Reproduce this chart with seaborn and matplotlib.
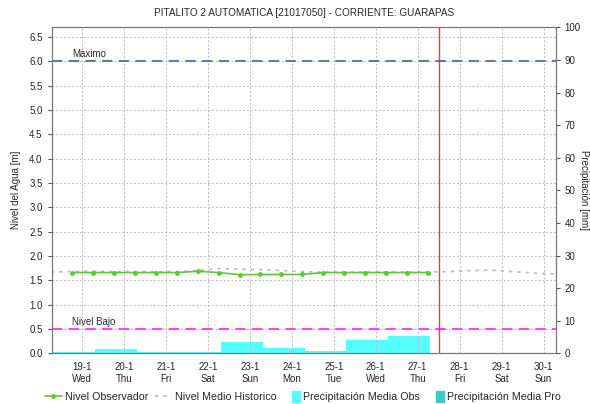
import numpy as np
import pandas as pd
import matplotlib
matplotlib.use("Agg")
import matplotlib.pyplot as plt
from matplotlib.ticker import MultipleLocator, FixedLocator
from matplotlib.legend_handler import HandlerPatch
import seaborn as sns

# DATA
# x positions are in days of January
obs_days = [18.75 + 0.5 * i for i in range(18)]
obs_level = [1.66, 1.66, 1.66, 1.66, 1.66, 1.66, 1.685, 1.66, 1.615,
             1.62, 1.62, 1.62, 1.66, 1.66, 1.66, 1.66, 1.66, 1.66]

hist_days = [18.25 + 0.5 * i for i in range(25)]
hist_level = [1.67, 1.68, 1.69, 1.68, 1.68, 1.68, 1.68, 1.70, 1.74, 1.73,
              1.72, 1.70, 1.68, 1.67, 1.67, 1.67, 1.67, 1.67, 1.67, 1.68,
              1.70, 1.71, 1.68, 1.65, 1.63]

precip_start = [17.3, 18.3, 19.3, 20.3, 21.3, 22.3, 23.3, 24.3, 25.3, 26.3]
precip_obs = [5.2, 0.4, 1.4, 0.4, 0.4, 3.6, 1.7, 0.8, 4.2, 5.2]

tick_days = list(range(19, 31))
tick_labels = ["19-1\nWed", "20-1\nThu", "21-1\nFri", "22-1\nSat", "23-1\nSun",
               "24-1\nMon", "25-1\nTue", "26-1\nWed", "27-1\nThu", "28-1\nFri",
               "29-1\nSat", "30-1\nSun"]

nivel_maximo = 6.0
nivel_bajo = 0.5
now_day = 27.5

sns.set_style("white")
plt.rcParams['font.family'] = ['Liberation Sans', 'DejaVu Sans']
plt.rcParams['font.size'] = 7

fig = plt.figure(figsize=(5.9, 4.04), dpi=100)
ax = fig.add_axes([0.0876, 0.1255, 0.8542, 0.8069])
ax2 = ax.twinx()

# precipitation on the right axis, drawn behind the level lines
ax2.bar(precip_start, precip_obs, width=1.0, align='edge', color='#55FFFF',
        linewidth=0)
ax2.set_ylim(0, 100)
ax2.yaxis.set_major_locator(MultipleLocator(10))
ax2.set_ylabel('Precipitación [mm]', rotation=-90, fontsize=7, va='center')
ax2.yaxis.set_label_coords(1.056, 0.5)
ax.set_zorder(ax2.get_zorder() + 1)
ax.patch.set_visible(False)

obs_df = pd.DataFrame({'dia': obs_days, 'nivel': obs_level})
hist_df = pd.DataFrame({'dia': hist_days, 'nivel': hist_level})

sns.lineplot(data=hist_df, x='dia', y='nivel', ax=ax, color='#BBBBBB',
             linestyle=(0, (2, 3)), linewidth=1.2, label='Nivel Medio Historico')
sns.lineplot(data=obs_df, x='dia', y='nivel', ax=ax, color='#5CC832',
             linewidth=1.2, marker='o', markersize=3.5, markeredgewidth=0,
             label='Nivel Observador')

ax.axhline(nivel_maximo, color='#6677A8', linestyle=(0, (5, 3)), linewidth=1.5)
ax.axhline(nivel_bajo, color='#FF44FF', linestyle=(0, (5, 3)), linewidth=1.5)
ax.axvline(now_day, color='#FF3333', linewidth=1.0)
ax.text(18.75, nivel_maximo + 0.04, 'Maximo', fontsize=7, va='bottom')
ax.text(18.75, nivel_bajo + 0.04, 'Nivel Bajo', fontsize=7, va='bottom')

ax.set_xlim(18.27, 30.29)
ax.set_ylim(0, 6.7)
ax.yaxis.set_major_locator(MultipleLocator(0.5))
ax.yaxis.set_major_formatter(matplotlib.ticker.FormatStrFormatter('%.1f'))
ax.xaxis.set_major_locator(FixedLocator(tick_days))
ax.set_xticklabels(tick_labels)
ax.xaxis.set_minor_locator(MultipleLocator(1 / 12))
ax.tick_params(axis='x', which='minor', length=2, width=0.6, color='#555555')
ax.tick_params(axis='both', which='major', length=3, width=0.8, color='#555555',
               labelsize=7, direction='out')
ax2.tick_params(axis='y', length=3, width=0.8, color='#555555', labelsize=7,
                direction='out')
ax.set_xlabel('')
ax.set_ylabel('Nivel del Agua [m]', fontsize=7)
ax.yaxis.set_label_coords(-0.06, 0.5)

ax.grid(True, color='#BBBBBB', linestyle=(0, (2, 2)), linewidth=0.7)
for a in (ax, ax2):
    for s in a.spines.values():
        s.set_color('#777777')
        s.set_linewidth(0.8)

ax.set_title('PITALITO 2 AUTOMATICA [21017050] - CORRIENTE: GUARAPAS',
             fontsize=7.2, pad=8)


# narrow patches in the legend, like the original
def narrow_patch(legend, orig_handle, xdescent, ydescent, width, height, fontsize):
    return matplotlib.patches.Rectangle((width * 0.55 - xdescent, -ydescent - 1.5),
                                        width * 0.45, height + 3)


# legend below the plot
ax.get_legend().remove()
h1, l1 = ax.get_legend_handles_labels()
obs_patch = matplotlib.patches.Patch(color='#55FFFF')
pro_patch = matplotlib.patches.Patch(color='#40C8C8')
handles = [h1[1], h1[0], obs_patch, pro_patch]
labels = ['Nivel Observador', 'Nivel Medio Historico', 'Precipitación Media Obs',
          'Precipitación Media Pro']
fig.legend(handles, labels, loc='center', bbox_to_anchor=(0.513, 0.017),
           ncol=4, frameon=False, fontsize=7.7, handlelength=1.6,
           columnspacing=0.6, handletextpad=0.3,
           handler_map={matplotlib.patches.Patch: HandlerPatch(patch_func=narrow_patch)})

fig.savefig('out.png', dpi=100)
